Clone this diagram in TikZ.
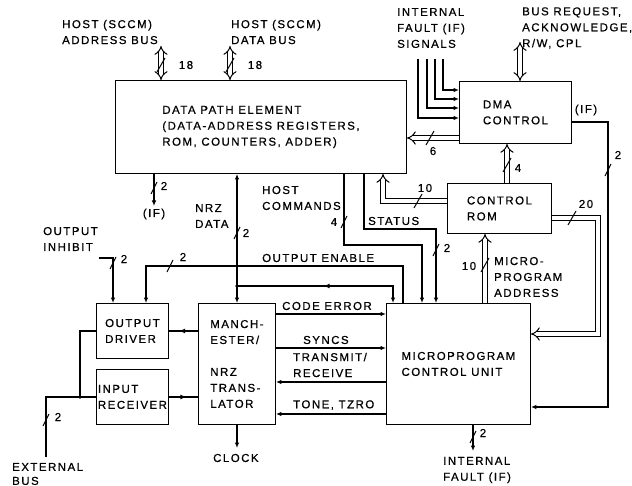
\documentclass[tikz,border=0pt]{standalone}
\usepackage{fontspec}
\setmainfont{Liberation Sans}[LetterSpace=13,FakeBold=0.7]
\usetikzlibrary{arrows.meta,decorations.markings}
\tikzset{
  box/.style={draw, line width=0.9bp, anchor=north west, inner sep=0, align=left},
  lbl/.style={inner sep=0, align=left},
  sig/.style={line width=1.3bp},
  bus/.style={double, double distance=3.6bp, line width=1bp},
  hatchln/.style={line width=1bp},
  midfwd/.style={postaction={decorate}, decoration={markings, mark=at position #1 with {\arrow{Latex[length=6bp,width=5bp]}}}},
  midbwd/.style={postaction={decorate}, decoration={markings, mark=at position #1 with {\arrowreversed{Latex[length=6bp,width=5bp]}}}},
  >={Latex[length=5.5bp,width=4.5bp]},
  every node/.style={font=\fontsize{11.5}{16}\selectfont}
}
\begin{document}
\begin{tikzpicture}[x=1bp,y=-1bp]
\useasboundingbox (0,0) rectangle (632,486);

% ---- boxes
\node[box, minimum width=291bp, minimum height=93bp] (dpe) at (115,80) {};
\node[lbl] (dpet) at (dpe.center) {DATA PATH ELEMENT\\(DATA-ADDRESS REGISTERS,\\ROM, COUNTERS, ADDER)};
\node[box, minimum width=112bp, minimum height=62bp] (dma) at (459,81) {};
\node[lbl] (dmat) at (dma.center) {DMA\\CONTROL};
\node[box, minimum width=104bp, minimum height=50bp] (crom) at (447,183) {};
\node[lbl] (cromt) at (crom.center) {CONTROL\\ROM};
\node[box, minimum width=144bp, minimum height=121bp] (mcu) at (386,303) {};
\node[lbl] (mcut) at (mcu.center) {MICROPROGRAM\\CONTROL UNIT};
\node[box, minimum width=72bp, minimum height=55bp] (od) at (96,303) {};
\node[lbl] (odt) at (od.center) {OUTPUT\\DRIVER};
\node[box, minimum width=72bp, minimum height=55bp] (ir) at (96,369) {};
\node[lbl] (irt) at (ir.center) {INPUT\\RECEIVER};
\node[box, minimum width=77bp, minimum height=121bp] (man) at (198,303) {};
\node[lbl] (mant) at (man.center) {MANCH-\\ESTER/\\[16bp]NRZ\\TRANS-\\LATOR};

% ---- coordinates
\coordinate (addrtop) at (161,46);
\coordinate (datatop) at (230,46);
\coordinate (ifl) at (154,206);
\coordinate (nrzj) at (237,286);
\coordinate (oe) at (146,266);
\coordinate (inh) at (99,258);
\coordinate (inhc) at (113,258);
\coordinate (ext) at (46,457);
\coordinate (extj) at (80,397);
\coordinate (clk) at (237,448);
\coordinate (ce) at (330,314);
\coordinate (sy) at (330,348);
\coordinate (tr) at (330,382);
\coordinate (tz) at (330,414);
\coordinate (hcx) at (344,245);
\coordinate (hc) at (422,245);
\coordinate (stx) at (364,229);
\coordinate (st) at (436,229);
\coordinate (rd) at (383,201);
\coordinate (dd) at (430,138);
\coordinate (cd) at (507,160);
\coordinate (cm1) at (598,218);
\coordinate (cm2) at (598,334);
\coordinate (ma) at (485,265);
\coordinate (di1) at (608,122);
\coordinate (di2) at (608,407);
\coordinate (br) at (520,42);
\coordinate (mf) at (473,451);
\coordinate (f1) at (418,59);
\coordinate (f2) at (427,59);
\coordinate (f3) at (435,59);
\coordinate (f4) at (443,59);
\coordinate (t1) at (418,118);
\coordinate (t2) at (427,108);
\coordinate (t3) at (435,99);
\coordinate (t4) at (443,90);

% ---- buses
\draw[bus,{Implies}-{Implies}] (addrtop) -- (addrtop |- dpe.north);
\draw[bus,{Implies}-{Implies}] (datatop) -- (datatop |- dpe.north);
\draw[bus,{Implies}-{Implies}] (br) -- (br |- dma.north);
\draw[bus,-{Implies}] (crom.west |- rd) -- (rd) -- (rd |- dpe.south);
\draw[bus,-{Implies}] (dma.west |- dd) -- (dpe.east |- dd);
\draw[bus,-{Implies}] (cd |- crom.north) -- (cd |- dma.south);
\draw[bus,-{Implies}] (crom.east |- cm1) -- (cm1) -- (cm2) -- (mcu.east |- cm2);
\draw[bus,-{Implies}] (ma |- mcu.north) -- (ma |- crom.south);

% ---- signals
\draw[sig,->] (ifl |- dpe.south) -- (ifl);
\draw[sig,<->] (nrzj |- dpe.south) -- (nrzj |- man.north);
\fill (nrzj) circle (1.9bp);
\draw[sig,->,midbwd=0.5] (nrzj) -| ([xshift=7bp]mcu.north west);
\draw[sig,->] ([xshift=17bp]mcu.north west) |- (oe) -- (oe |- od.north);
\draw[sig,->] (inh) -- (inhc) -- (inhc |- od.north);
\draw[sig,midfwd=0.65] (man.west |- od.east) -- (od.east);
\draw[sig,midfwd=0.6] (ir.east) -- (man.west |- ir.east);
\draw[sig] (ext) |- (ir.west);
\draw[sig] (extj) |- (od.west);
\fill (extj) circle (1.9bp);
\draw[sig,->] (clk |- man.south) -- (clk);
\draw[sig,->] (man.east |- ce) -- (mcu.west |- ce);
\draw[sig,->] (man.east |- sy) -- (mcu.west |- sy);
\draw[sig,->] (mcu.west |- tr) -- (man.east |- tr);
\draw[sig,->] (mcu.west |- tz) -- (man.east |- tz);
\draw[sig,->] (hcx |- dpe.south) -- (hcx) -- (hc) -- (hc |- mcu.north);
\draw[sig,->] (stx |- dpe.south) -- (stx) -- (st) -- (st |- mcu.north);
\draw[sig,->] (dma.east |- di1) -- (di1) -- (di2) -- (mcu.east |- di2);
\draw[sig,->] (mf |- mcu.south) -- (mf);
\draw[sig,->] (f1) -- (t1) -- (dma.west |- t1);
\draw[sig,->] (f2) -- (t2) -- (dma.west |- t2);
\draw[sig,->] (f3) -- (t3) -- (dma.west |- t3);
\draw[sig,->] (f4) -- (t4) -- (dma.west |- t4);

% ---- hatches
\foreach \hx/\hy in {161/65, 230/65, 430/138, 418/201, 507/165, 572/218, 485/265}
  \draw[hatchln] (\hx,\hy) +(-4,7) -- +(4,-7);
\foreach \hx/\hy in {154/188, 237/233, 344/222, 436/250, 608/170, 473/437, 170/266, 113/263, 46/420}
  \draw[hatchln] (\hx,\hy) +(-3,6) -- +(3,-6);

% ---- labels
\node[lbl,anchor=west] (l1) at (62,32) {HOST (SCCM)\\ADDRESS BUS};
\node[lbl,anchor=west] (l2) at (231,32) {HOST (SCCM)\\DATA BUS};
\node[lbl] (n18a) at (186,65) {18};
\node[lbl] (n18b) at (255,65) {18};
\node[lbl,anchor=west] (l3) at (397,28) {INTERNAL\\FAULT (IF)\\SIGNALS};
\node[lbl,anchor=west] (l4) at (522,28) {BUS REQUEST,\\ACKNOWLEDGE,\\R/W, CPL};
\node[lbl] (n2a) at (164,186) {2};
\node[lbl] (lif1) at (154,214) {(IF)};
\node[lbl,anchor=west] (l5) at (195,216) {NRZ\\DATA};
\node[lbl] (n2b) at (246,233) {2};
\node[lbl,anchor=west] (l6) at (262,198) {HOST\\COMMANDS};
\node[lbl] (n4a) at (334,222) {4};
\node[lbl,anchor=west] (l7) at (368,221) {STATUS};
\node[lbl] (n2c) at (447,248) {2};
\node[lbl] (n10a) at (425,188) {10};
\node[lbl] (n6) at (433,151) {6};
\node[lbl] (n4b) at (518,168) {4};
\node[lbl] (n2d) at (618,155) {2};
\node[lbl] (lif2) at (586,110) {(IF)};
\node[lbl] (n20) at (586,204) {20};
\node[lbl] (n10b) at (469,266) {10};
\node[lbl,anchor=west] (l8) at (494,277) {MICRO-\\PROGRAM\\ADDRESS};
\node[lbl] (n2e) at (483,433) {2};
\node[lbl,anchor=west] (l9) at (443,470) {INTERNAL\\FAULT (IF)};
\node[lbl,anchor=west] (l10) at (262,258) {OUTPUT ENABLE};
\node[lbl,anchor=west] (l11) at (282,306) {CODE ERROR};
\node[lbl,anchor=west] (l12) at (303,340) {SYNCS};
\node[lbl,anchor=west] (l13) at (293,365) {TRANSMIT/\\RECEIVE};
\node[lbl,anchor=west] (l14) at (293,405) {TONE, TZRO};
\node[lbl,anchor=west] (l15) at (43,239) {OUTPUT\\INHIBIT};
\node[lbl] (n2f) at (124,259) {2};
\node[lbl] (n2g) at (183,257) {2};
\node[lbl] (n2h) at (58,417) {2};
\node[lbl,anchor=west,font=\fontsize{11.5}{14}\selectfont] (l16) at (12,474) {EXTERNAL\\BUS};
\node[lbl,anchor=west] (l17) at (213,458) {CLOCK};
\end{tikzpicture}
\end{document}
